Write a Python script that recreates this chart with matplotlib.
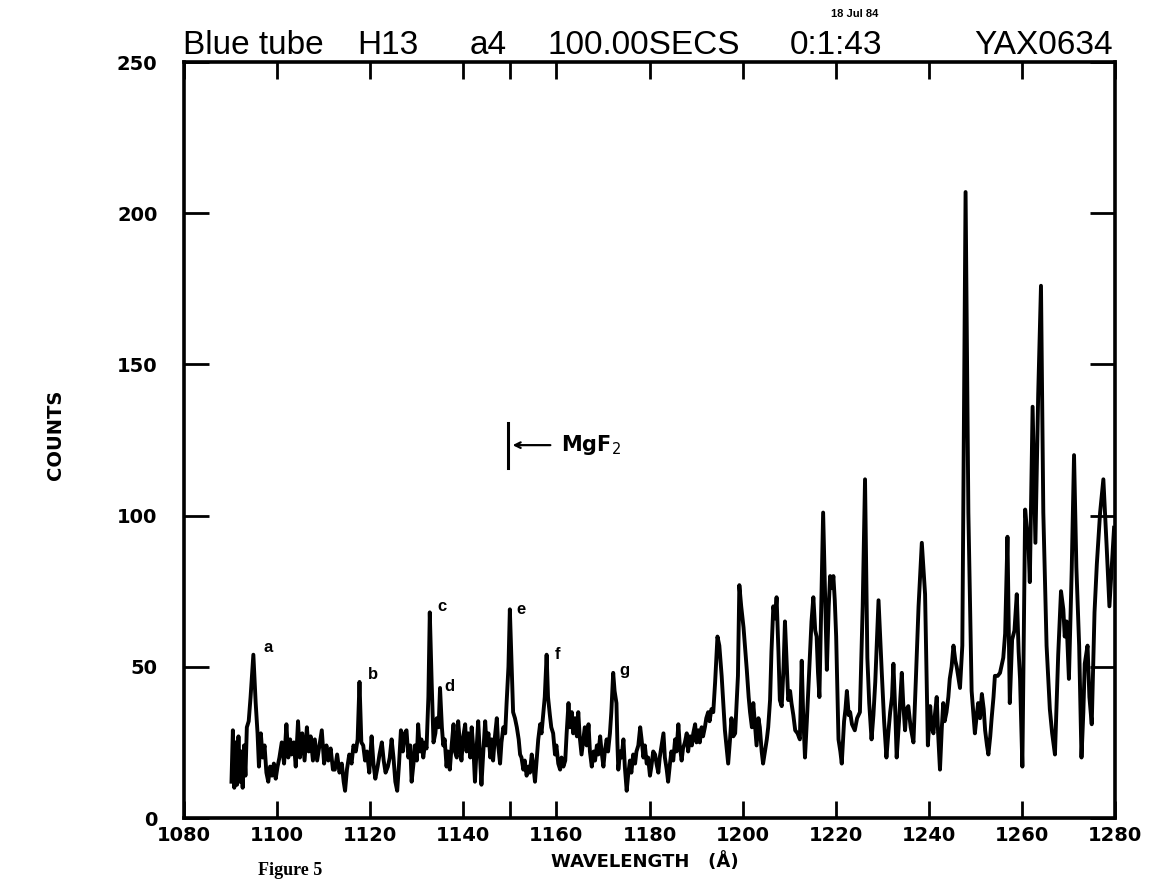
import matplotlib.pyplot as plt
import numpy as np

plt.rcParams['font.family'] = ['Liberation Sans', 'DejaVu Sans']

# (wavelength A, counts), in four stretches
blue_1090 = [
    (1090.2, 12), (1090.5, 29), (1090.8, 10), (1091.1, 25), (1091.4, 11), (1091.7, 27),
    (1092.0, 12), (1092.3, 22), (1092.6, 10), (1092.9, 24), (1093.2, 14), (1093.5, 30),
    (1093.9, 32), (1094.3, 40), (1094.9, 54), (1095.4, 38), (1095.8, 28), (1096.1, 17),
    (1096.5, 28), (1096.9, 20), (1097.3, 24), (1097.7, 15), (1098.1, 12), (1098.5, 17),
    (1098.9, 14), (1099.3, 18), (1099.7, 13), (1100.1, 17), (1100.5, 20), (1101.0, 25),
    (1101.5, 18), (1102.0, 31), (1102.4, 20), (1102.8, 26), (1103.1, 21), (1103.6, 25),
    (1104.0, 17), (1104.5, 32), (1104.9, 20), (1105.4, 28), (1105.9, 19), (1106.4, 30),
    (1106.8, 22), (1107.2, 27), (1107.7, 19), (1108.1, 26), (1108.6, 19), (1109.1, 24),
    (1109.6, 29), (1110.1, 18), (1110.6, 24), (1111.0, 19), (1111.5, 23), (1112.0, 16),
    (1112.4, 16), (1112.9, 21), (1113.4, 15), (1113.9, 18), (1114.3, 12), (1114.6, 9),
    (1115.0, 16), (1115.5, 21), (1116.0, 18), (1116.4, 24), (1116.9, 22), (1117.3, 26),
    (1117.7, 45), (1118.1, 25), (1118.5, 24), (1118.9, 19), (1119.3, 22), (1119.8, 15),
    (1120.3, 27), (1120.7, 18), (1121.1, 13), (1121.6, 17), (1122.0, 21), (1122.5, 25),
    (1122.9, 19), (1123.3, 15), (1123.8, 17), (1124.2, 20), (1124.6, 26), (1125.0, 20),
    (1125.4, 12), (1125.8, 9), (1126.2, 18), (1126.6, 29), (1127.0, 22), (1127.4, 28),
    (1127.8, 29), (1128.2, 20), (1128.6, 24), (1128.9, 12), (1129.3, 18), (1129.6, 24),
    (1130.0, 19), (1130.3, 31), (1130.7, 22), (1131.0, 26), (1131.4, 20), (1131.8, 25),
    (1132.1, 23), (1132.5, 40), (1132.8, 68), (1133.2, 45), (1133.6, 25), (1134.0, 28),
    (1134.3, 33), (1134.7, 30), (1135.0, 43), (1135.4, 30), (1135.7, 24), (1136.0, 26),
    (1136.4, 17), (1136.7, 22), (1137.1, 16), (1137.5, 24), (1137.9, 31), (1138.2, 22),
    (1138.6, 20), (1138.9, 32), (1139.3, 24), (1139.6, 19), (1140.0, 27), (1140.4, 31),
]
blue_1140 = [
    (1140.7, 22), (1141.1, 28), (1141.5, 20), (1141.8, 30), (1142.2, 22), (1142.5, 12),
    (1142.9, 24), (1143.2, 32), (1143.6, 20), (1143.9, 11), (1144.3, 22), (1144.7, 32),
    (1145.0, 24), (1145.4, 28), (1145.8, 20), (1146.1, 26), (1146.4, 19), (1146.8, 27),
    (1147.2, 33), (1147.5, 24), (1147.9, 18), (1148.2, 25), (1148.6, 30), (1149.0, 28),
    (1149.3, 38), (1149.7, 50), (1150.0, 69), (1150.4, 50), (1150.7, 35), (1151.1, 33),
    (1151.5, 30), (1151.9, 26), (1152.2, 21), (1152.5, 20), (1152.9, 16), (1153.2, 19),
    (1153.6, 14), (1154.0, 17), (1154.3, 15), (1154.7, 21), (1155.0, 18), (1155.4, 12),
    (1155.8, 20), (1156.1, 26), (1156.5, 31), (1156.8, 28), (1157.2, 35), (1157.5, 40),
    (1157.9, 54), (1158.2, 40), (1158.6, 34), (1158.9, 30), (1159.3, 28), (1159.7, 21),
    (1160.0, 24), (1160.4, 18), (1160.8, 16), (1161.1, 20), (1161.5, 17), (1161.9, 19),
    (1162.2, 28), (1162.6, 38), (1162.9, 30), (1163.3, 35), (1163.6, 28), (1164.0, 33),
    (1164.4, 27), (1164.7, 35), (1165.0, 27), (1165.4, 21), (1165.8, 26), (1166.1, 30),
    (1166.5, 24), (1166.9, 31), (1167.2, 22), (1167.6, 17), (1168.0, 22), (1168.3, 19),
    (1168.7, 24), (1169.0, 21), (1169.4, 27), (1169.7, 22), (1170.1, 17), (1170.4, 22),
    (1170.8, 26), (1171.1, 22), (1171.5, 28), (1171.8, 35), (1172.2, 48), (1172.5, 42),
    (1172.9, 38), (1173.1, 25), (1173.3, 16), (1173.7, 22), (1174.0, 20), (1174.4, 26),
    (1174.7, 17), (1175.1, 9), (1175.4, 14), (1175.8, 19), (1176.1, 15), (1176.5, 21),
    (1176.9, 18), (1177.2, 22), (1177.6, 24), (1178.0, 30), (1178.3, 26), (1178.7, 20),
    (1179.0, 24), (1179.4, 18), (1179.7, 20), (1180.1, 14), (1180.4, 17), (1180.8, 22),
    (1181.2, 21), (1181.5, 18), (1181.9, 15), (1182.2, 20), (1182.6, 24), (1183.0, 28),
    (1183.3, 20), (1183.7, 16), (1184.0, 12), (1184.4, 18), (1184.7, 22), (1185.1, 19),
    (1185.5, 26), (1185.8, 22), (1186.2, 31), (1186.5, 24), (1186.9, 19), (1187.2, 23),
    (1187.6, 25), (1188.0, 28), (1188.3, 22), (1188.7, 27), (1189.1, 24), (1189.4, 28),
    (1189.8, 31), (1190.1, 25), (1190.5, 29), (1190.8, 25), (1191.2, 30), (1191.5, 27),
    (1191.9, 30), (1192.2, 33), (1192.6, 35), (1192.9, 32), (1193.3, 36), (1193.7, 35),
]
blue_1194 = [
    (1194.1, 45), (1194.6, 60), (1195.0, 57), (1195.5, 47), (1196.2, 29), (1196.9, 18),
    (1197.3, 26), (1197.6, 33), (1198.0, 27), (1198.4, 28), (1199.0, 47), (1199.3, 77),
    (1199.7, 70), (1200.2, 63), (1200.9, 49), (1201.3, 40), (1201.6, 35), (1202.0, 30),
    (1202.3, 38), (1202.7, 30), (1203.0, 24), (1203.4, 33), (1203.7, 30), (1204.1, 22),
    (1204.4, 18), (1204.8, 22), (1205.2, 26), (1205.5, 30), (1205.9, 39), (1206.2, 55),
    (1206.6, 70), (1207.0, 66), (1207.3, 73), (1207.7, 55), (1208.0, 39), (1208.4, 37),
    (1208.8, 50), (1209.1, 65), (1209.5, 50), (1209.8, 39), (1210.2, 42), (1210.5, 38),
    (1210.9, 34), (1211.3, 29), (1211.8, 28), (1212.3, 26), (1212.7, 52), (1213.0, 35),
    (1213.4, 20), (1213.8, 32), (1214.1, 42), (1214.5, 55), (1214.8, 65), (1215.2, 73),
    (1215.6, 62), (1215.9, 60), (1216.2, 48), (1216.5, 40), (1216.9, 70), (1217.3, 101),
    (1217.7, 75), (1218.1, 49), (1218.5, 70), (1218.8, 80), (1219.2, 76), (1219.5, 80),
    (1219.8, 72), (1220.1, 60), (1220.4, 40), (1220.6, 26), (1221.0, 22), (1221.3, 18),
    (1221.8, 32), (1222.1, 36), (1222.4, 42), (1222.8, 34), (1223.1, 35), (1223.5, 31),
    (1224.1, 29), (1224.6, 33), (1225.2, 35), (1225.8, 70), (1226.3, 112), (1226.8, 53),
    (1227.2, 38), (1227.7, 26), (1228.1, 34), (1228.5, 45), (1229.2, 72), (1229.6, 58),
    (1229.9, 48), (1230.4, 32), (1230.9, 20), (1231.3, 28), (1231.7, 35), (1232.1, 40),
    (1232.4, 51), (1232.8, 35), (1233.1, 20), (1233.6, 32), (1234.2, 48), (1234.5, 38),
    (1234.9, 29), (1235.2, 36), (1235.6, 37), (1236.1, 30), (1236.7, 25), (1237.2, 45),
    (1237.8, 70), (1238.5, 91), (1239.2, 74), (1239.8, 24),
]
blue_1240 = [
    (1240.3, 37), (1240.6, 30), (1241.0, 28), (1241.3, 34), (1241.7, 40), (1242.0, 28),
    (1242.4, 16), (1242.8, 30), (1243.1, 38), (1243.4, 32), (1243.8, 35), (1244.2, 40),
    (1244.5, 46), (1244.9, 50), (1245.3, 57), (1245.7, 52), (1246.0, 50), (1246.4, 46),
    (1246.7, 43), (1247.2, 57), (1247.9, 207), (1248.5, 101), (1249.2, 42), (1249.5, 36),
    (1249.9, 28), (1250.3, 34), (1250.6, 38), (1251.0, 33), (1251.4, 41), (1251.8, 36),
    (1252.1, 29), (1252.5, 24), (1252.8, 21), (1253.2, 27), (1253.5, 33), (1253.9, 40),
    (1254.2, 47), (1254.8, 47), (1255.3, 48), (1256.0, 53), (1256.4, 61), (1256.9, 93),
    (1257.4, 38), (1257.9, 59), (1258.4, 62), (1258.9, 74), (1259.3, 55), (1259.6, 46),
    (1260.1, 17), (1260.7, 102), (1261.1, 95), (1261.4, 91), (1261.7, 78), (1262.3, 136),
    (1262.9, 91), (1263.5, 140), (1264.1, 176), (1264.6, 101), (1265.3, 57), (1266.0, 36),
    (1266.5, 28), (1267.1, 21), (1267.8, 54), (1268.4, 75), (1268.9, 69), (1269.2, 60),
    (1269.6, 65), (1270.1, 46), (1270.7, 82), (1271.2, 120), (1271.7, 83), (1272.3, 57),
    (1272.8, 20), (1273.2, 35), (1273.5, 51), (1274.1, 57), (1274.5, 40), (1275.0, 31),
    (1275.6, 68), (1276.1, 84), (1276.8, 101), (1277.5, 112), (1278.2, 90), (1278.8, 70),
    (1279.3, 83), (1279.8, 96),
]

x_ticks = list(range(1080, 1281, 20))
y_ticks = [0, 50, 100, 150, 200, 250]

# peak labels
peak_letters = ['a', 'b', 'c', 'd', 'e', 'f', 'g']
peak_x = [1098.1, 1120.7, 1135.4, 1137.1, 1152.5, 1160.2, 1174.6]
peak_y = [56.4, 47.3, 70.1, 43.6, 69.0, 54.2, 48.9]

spectrum = blue_1090 + blue_1140 + blue_1194 + blue_1240
wavelength = [p[0] for p in spectrum]
counts = [p[1] for p in spectrum]

W, H = 1151, 880
fig = plt.figure(figsize=(W / 100, H / 100), dpi=100)
ax = fig.add_axes([184 / W, (H - 818) / H, (1115 - 184) / W, (818 - 62) / H])

ax.plot(wavelength, counts, color='black', lw=2.8, solid_joinstyle='round')

ax.set_xlim(1080, 1280)
ax.set_ylim(0, 250)
ax.set_xticks(x_ticks)
ax.set_xticks([1150], minor=True)
ax.set_yticks(y_ticks)

narrow = ['Liberation Sans Narrow', 'DejaVu Sans']
tick_font = dict(family=narrow, weight='bold', size=14)
ax.set_xticklabels([str(t) for t in x_ticks], **tick_font)
ax.set_yticklabels([str(t) for t in y_ticks], **tick_font)
ax.tick_params(axis='x', which='both', direction='in', length=12, width=2,
               top=True, pad=6)
ax.tick_params(axis='y', direction='in', length=18, width=2, right=True, pad=19)
for s in ax.spines.values():
    s.set_linewidth(2.6)

for lt, lx, ly in zip(peak_letters, peak_x, peak_y):
    ax.text(lx, ly, lt, fontsize=12, fontweight='bold', ha='center', va='center')

# MgF2 marker
ax.plot([1149.5, 1149.5], [115.6, 130.7], color='black', lw=2.2)
ax.annotate('', xy=(1150.0, 123.3), xytext=(1159.3, 123.3),
            arrowprops=dict(arrowstyle='->', color='black', lw=1.6))
ax.text(1161.0, 123.3, 'MgF$_2$', fontsize=15, fontweight='bold', va='center',
        family=narrow)


def fx(px):
    return px / W


def fy(py):
    return 1 - py / H


title_size = 24
ty = fy(45)
fig.text(fx(183), ty, 'Blue tube', fontsize=title_size, va='center')
fig.text(fx(357), ty, 'H13', fontsize=title_size, va='center')
fig.text(fx(470), ty, 'a4', fontsize=title_size, va='center')
fig.text(fx(548), ty, '100.00SECS', fontsize=title_size, va='center')
fig.text(fx(790), ty, '0:1:43', fontsize=title_size, va='center')
fig.text(fx(1113), ty, 'YAX0634', fontsize=title_size, va='center', ha='right')
fig.text(fx(855), fy(14), '18 Jul 84', fontsize=8, fontweight='bold',
         va='center', ha='center')

fig.text(fx(645), fy(862), 'WAVELENGTH   (Å)', fontsize=13, fontweight='bold',
         ha='center', va='center', family=narrow)
fig.text(fx(55), fy(435), 'COUNTS', fontsize=14, fontweight='bold', rotation=90,
         ha='center', va='center', family=narrow)
fig.text(fx(258), fy(879), 'Figure 5', fontsize=13, fontweight='bold',
         va='bottom', family=['Liberation Serif', 'DejaVu Serif'])

fig.savefig('out.png', dpi=100)
